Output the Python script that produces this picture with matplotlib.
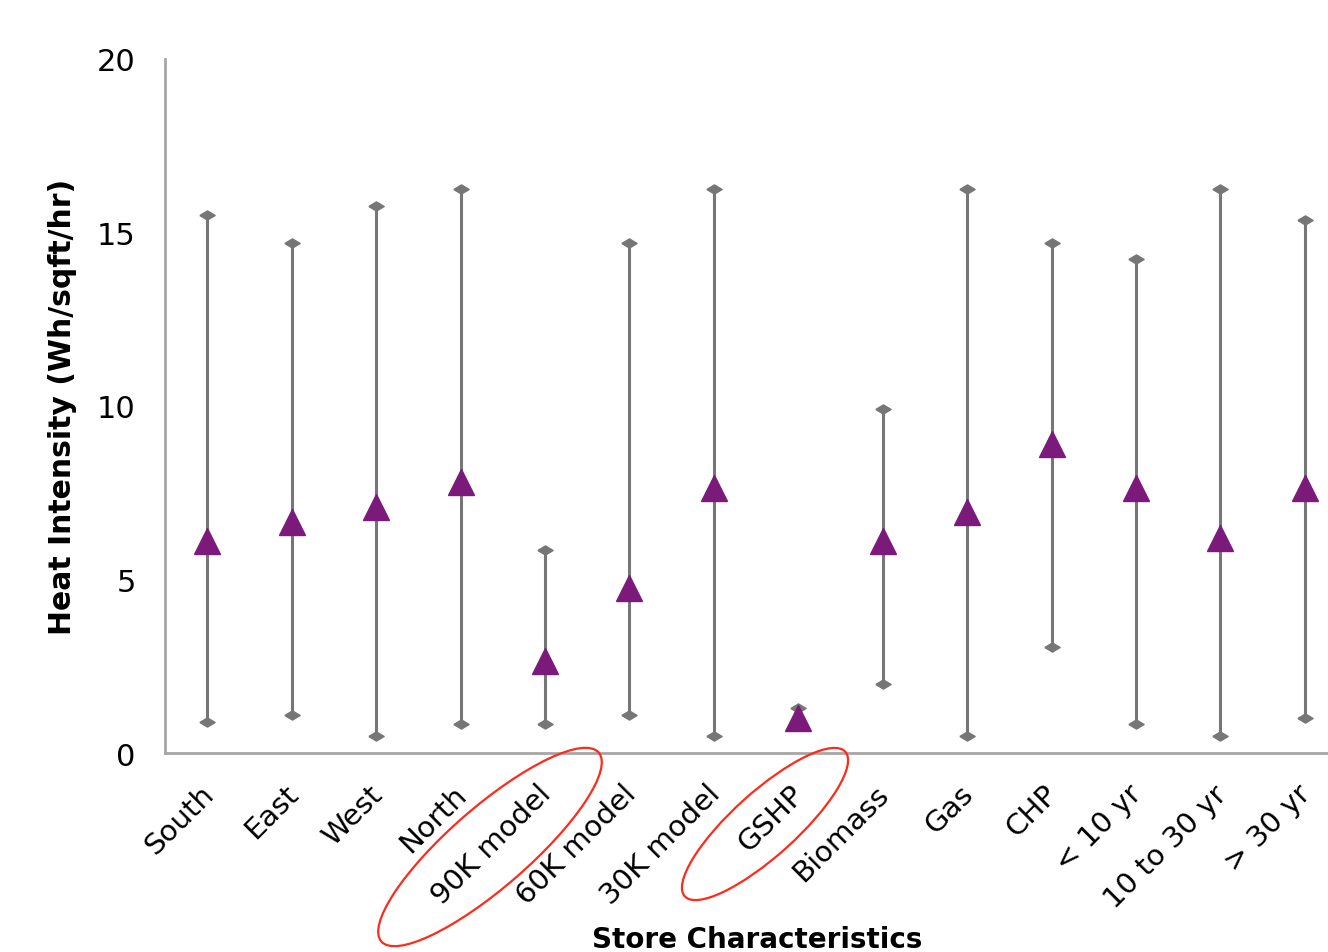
import matplotlib
matplotlib.use("Agg")
import matplotlib.pyplot as plt
from matplotlib.patches import Ellipse
from matplotlib.transforms import IdentityTransform, ScaledTranslation
import numpy as np

categories = ["South", "East", "West", "North", "90K model", "60K model", "30K model",
              "GSHP", "Biomass", "Gas", "CHP", "< 10 yr", "10 to 30 yr", "> 30 yr"]
high = [15.5, 14.7, 15.75, 16.25, 5.85, 14.7, 16.25, 1.3, 9.9, 16.25, 14.7, 14.25, 16.25, 15.35]
low = [0.9, 1.1, 0.5, 0.85, 0.85, 1.1, 0.5, 0.8, 2.0, 0.5, 3.05, 0.85, 0.5, 1.0]
mean = [6.1, 6.65, 7.1, 7.8, 2.65, 4.75, 7.65, 1.0, 6.1, 6.95, 8.9, 7.65, 6.2, 7.65]

W, H = 1328, 953
fig = plt.figure(figsize=(W / 100, H / 100), dpi=100)
fig.set_facecolor("white")

# axes run a little past the right edge, like the cropped original
ax = fig.add_axes([165 / W, 1 - 754 / H, 1182 / W, 694 / H])
x = np.arange(len(categories))

grey = "#767676"
flat_diamond = [(-1, 0), (0, 0.6), (1, 0), (0, -0.6), (-1, 0)]
ax.vlines(x, low, high, color=grey, lw=2.2, zorder=2)
ax.plot(x, high, ls="none", marker=flat_diamond, ms=11, color=grey, zorder=3)
ax.plot(x, low, ls="none", marker=flat_diamond, ms=11, color=grey, zorder=3)
ax.plot(x, mean, ls="none", marker="^", ms=19, color="#7B1A7B", zorder=4)

ax.set_xlim(-0.5, len(categories) - 0.5)
ax.set_ylim(0, 20)
ax.set_yticks([0, 5, 10, 15, 20])
ax.set_xticks(x)
ax.set_xticklabels(categories, rotation=45, ha="right", rotation_mode="anchor", fontsize=21)
ax.tick_params(axis="y", labelsize=22, length=0, pad=21)
ax.tick_params(axis="x", length=0, pad=19)
shift = ScaledTranslation(-8 / 100, 0, fig.dpi_scale_trans)
for lab in ax.get_xticklabels():
    lab.set_transform(lab.get_transform() + shift)

for side in ["top", "right"]:
    ax.spines[side].set_visible(False)
for side in ["left", "bottom"]:
    ax.spines[side].set_color("#a6a6a6")
    ax.spines[side].set_linewidth(2)

ax.set_ylabel("Heat Intensity (Wh/sqft/hr)", fontsize=21.5, fontweight="bold")
ax.yaxis.set_label_coords(-0.0745, 0.5)
ax.set_xlabel("Store Characteristics", fontsize=20, fontweight="bold")
ax.xaxis.set_label_coords(0.501, -0.248)

# red ellipses highlighting two labels
for cx, cy, w, h, ang in [(490, 848, 288, 80, 41), (765, 825, 216, 64, 42)]:
    e = Ellipse((cx, H - cy), w, h, angle=ang, fill=False, edgecolor="#ff2a1a", lw=1.6,
                transform=IdentityTransform(), zorder=10)
    fig.patches.append(e)

fig.savefig("out.png", dpi=100)
